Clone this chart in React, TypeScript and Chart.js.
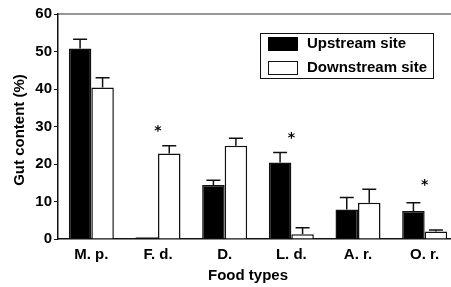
import React, { useEffect, useRef } from "react";
import { Chart, registerables } from "chart.js";
Chart.register(...registerables);

const categories = ["M. p.", "F. d.", "D.", "L. d.", "A. r.", "O. r."];
const upstream = [50.8, 0.5, 14.4, 20.4, 7.9, 7.5];
const upstreamErr = [2.5, 0, 1.3, 2.7, 3.2, 2.2];
const downstream = [40.4, 22.8, 24.9, 1.3, 9.7, 2.0];
const downstreamErr = [2.6, 2.1, 2.0, 1.7, 3.6, 0.4];
const starValues: (number | null)[] = [null, 29, null, 27.2, null, 14.8];
const seriesLabels = ["Upstream site", "Downstream site"];
const yTitle = "Gut content (%)";
const xTitle = "Food types";
const yTicks = [0, 10, 20, 30, 40, 50, 60];

const FONT = "'Liberation Sans', Arial, sans-serif";
const INK = "#111";

const overlayPlugin = {
  id: "overlay",
  afterDatasetsDraw(chart: any) {
    const ctx = chart.ctx;
    const y = chart.scales.y;
    const errs = [upstreamErr, downstreamErr];
    ctx.save();
    ctx.strokeStyle = INK;
    ctx.lineWidth = 1.5;
    chart.data.datasets.forEach((ds: any, i: number) => {
      const meta = chart.getDatasetMeta(i);
      meta.data.forEach((el: any, j: number) => {
        const e = errs[i][j];
        if (!e) return;
        const top = y.getPixelForValue(ds.data[j] + e);
        ctx.beginPath();
        ctx.moveTo(el.x, el.y);
        ctx.lineTo(el.x, top);
        ctx.moveTo(el.x - 7, top);
        ctx.lineTo(el.x + 7, top);
        ctx.stroke();
      });
    });
    // stars
    const x = chart.scales.x;
    ctx.fillStyle = "#000";
    ctx.font = `bold 14px 'DejaVu Sans', sans-serif`;
    ctx.textAlign = "center";
    ctx.textBaseline = "alphabetic";
    starValues.forEach((v, j) => {
      if (v == null) return;
      ctx.fillText("*", x.getPixelForValue(j), y.getPixelForValue(v) + 5);
    });
    ctx.restore();
  },
  afterDraw(chart: any) {
    const ctx = chart.ctx;
    const a = chart.chartArea;
    ctx.save();
    // top frame line
    ctx.strokeStyle = "#333";
    ctx.lineWidth = 1.2;
    ctx.beginPath();
    ctx.moveTo(a.left, a.top);
    ctx.lineTo(chart.width, a.top);
    ctx.stroke();
    // legend
    ctx.strokeStyle = INK;
    ctx.lineWidth = 1;
    ctx.strokeRect(260.5, 33.5, 173, 45);
    ctx.fillStyle = "#000";
    ctx.fillRect(268, 37, 30, 14);
    ctx.fillStyle = "#fff";
    ctx.fillRect(268.5, 61.5, 29, 13);
    ctx.strokeRect(268.5, 61.5, 29, 13);
    ctx.fillStyle = "#000";
    ctx.font = `bold 15px ${FONT}`;
    ctx.textAlign = "left";
    ctx.textBaseline = "middle";
    ctx.fillText(seriesLabels[0], 307, 44);
    ctx.fillText(seriesLabels[1], 307, 68);
    // axis titles
    ctx.font = `bold 15px ${FONT}`;
    ctx.textAlign = "center";
    ctx.fillText(xTitle, 248, 276);
    ctx.translate(20, 130);
    ctx.rotate(-Math.PI / 2);
    ctx.fillText(yTitle, 0, 0);
    ctx.restore();
  },
};

export default function App() {
  const ref = useRef<HTMLCanvasElement>(null);
  useEffect(() => {
    if (!ref.current) return;
    const chart = new Chart(ref.current, {
      type: "bar",
      data: {
        labels: categories,
        datasets: [
          {
            label: seriesLabels[0],
            data: upstream,
            backgroundColor: "#000",
            borderColor: INK,
            borderWidth: 1.5,
          },
          {
            label: seriesLabels[1],
            data: downstream,
            backgroundColor: "#fff",
            borderColor: INK,
            borderWidth: 1.5,
          },
        ],
      },
      options: {
        responsive: false,
        animation: false,
        devicePixelRatio: 1,
        layout: { padding: { top: 14, left: 0, right: 0, bottom: 0 } },
        datasets: { bar: { categoryPercentage: 0.675, barPercentage: 1 } },
        plugins: { legend: { display: false }, tooltip: { enabled: false } },
        scales: {
          x: {
            grid: { display: false, drawTicks: false },
            border: { display: true, color: INK, width: 1.5 },
            ticks: { color: "#000", font: { family: FONT, size: 15, weight: "bold" }, padding: 7 },
            afterFit: (s: any) => {
              s.height = 48;
            },
          },
          y: {
            min: 0,
            max: 60,
            afterBuildTicks: (s: any) => {
              s.ticks = yTicks.map((v) => ({ value: v }));
            },
            grid: {
              display: true,
              drawOnChartArea: false,
              drawTicks: true,
              tickLength: 4,
              color: INK,
              lineWidth: 1,
            },
            border: { display: true, color: INK, width: 1.5 },
            ticks: { color: "#000", font: { family: FONT, size: 15, weight: "bold" }, padding: 2 },
            afterFit: (s: any) => {
              s.width = 58;
            },
          },
        },
      },
      plugins: [overlayPlugin],
    });
    return () => chart.destroy();
  }, []);
  return (
    <div style={{ position: "fixed", left: 0, top: 0, width: 458, height: 287, background: "#fff" }}>
      <canvas ref={ref} width={458} height={287} style={{ width: 458, height: 287 }} />
    </div>
  );
}
